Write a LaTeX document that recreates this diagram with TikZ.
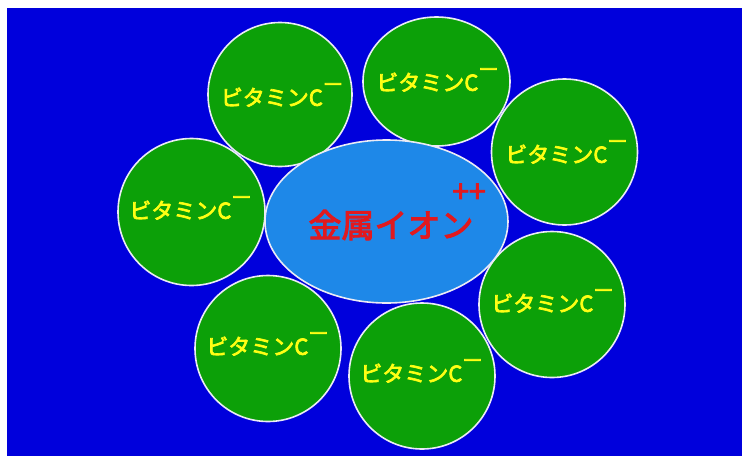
\documentclass[tikz,border=0pt]{standalone}
\usepackage{fontspec}
\usepackage{graphicx}
\newfontfamily\jp{Noto Sans CJK JP}[BoldFont={*}, BoldFeatures={FakeBold=3}]
\definecolor{bgblue}{RGB}{0,0,220}
\definecolor{vcgreen}{RGB}{12,160,8}
\definecolor{ionblue}{RGB}{30,136,232}
\definecolor{vcyellow}{RGB}{255,255,20}
\definecolor{ionred}{RGB}{225,25,30}
\definecolor{rim}{RGB}{235,235,245}
\usetikzlibrary{shapes.geometric}
\tikzset{
  vc/.style={circle, fill=vcgreen, draw=rim, line width=1.6pt, minimum size=#1pt, inner sep=0pt},
  vcoval/.style={ellipse, fill=vcgreen, draw=rim, line width=1.6pt, inner sep=0pt},
  vctext/.style={text=vcyellow, font=\jp\bfseries\fontsize{22}{22}\selectfont, inner sep=0pt},
}
\newcommand{\vitc}{ビタミンC\hspace{1pt}\raisebox{0.62em}{\scalebox{1.5}[1]{−}}}
\begin{document}
\begin{tikzpicture}[x=1pt,y=-1pt]
\useasboundingbox (0,0) rectangle (742,456);
\fill[white] (0,0) rectangle (742,456);
\fill[bgblue] (7,8) rectangle (742,456);
% circles
\node[vc=144] (c1) at (280,94.5) {};
\node[vcoval, minimum width=147pt, minimum height=129pt] (c2) at (436.5,81.5) {};
\node[vc=146] (c3) at (564.5,152) {};
\node[vc=147] (c4) at (191.5,212) {};
\node[vc=146] (c5) at (552,304.5) {};
\node[vc=146] (c6) at (268,348.5) {};
\node[vc=146] (c7) at (422,376) {};
% metal ion
\node[ellipse, fill=ionblue, draw=rim, line width=1.6pt, minimum width=243pt, minimum height=163pt, inner sep=0pt] (ion) at (386.5,221.5) {};
% labels
\node[vctext] (t1) at (281.5,95) {\vitc};
\node[vctext] (t2) at (437,80) {\vitc};
\node[vctext] (t3) at (566,152) {\vitc};
\node[vctext] (t4) at (190,208) {\vitc};
\node[vctext] (t5) at (552,301) {\vitc};
\node[vctext] (t6) at (267,344) {\vitc};
\node[vctext] (t7) at (421,371) {\vitc};
\node[text=ionred, font=\jp\bfseries\fontsize{33}{33}\selectfont, inner sep=0pt] (ionlabel) at (391,225) {金属イオン};
\node[text=ionred, font=\jp\bfseries\fontsize{30}{30}\selectfont, inner sep=0pt] (charge) at (469,193) {++};
\end{tikzpicture}
\end{document}
